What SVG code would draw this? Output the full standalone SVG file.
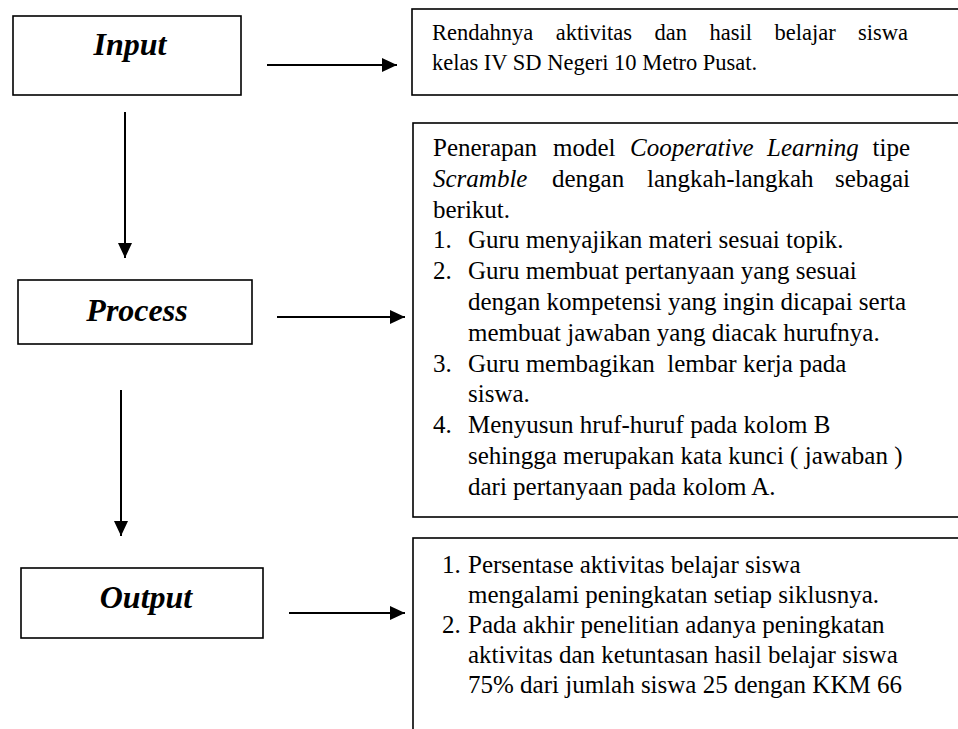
<svg xmlns="http://www.w3.org/2000/svg" width="958" height="729" viewBox="0 0 958 729">
<style>
.box{fill:#fff;stroke:#000;stroke-width:1.6}
.lbl{font-family:"Liberation Serif","Times New Roman",serif;font-weight:bold;font-style:italic;font-size:32px;text-anchor:middle;fill:#000}
.t{font-family:"Liberation Serif","Times New Roman",serif;font-size:25px;fill:#000}
.ti{font-family:"Liberation Serif","Times New Roman",serif;font-size:22.5px;fill:#000}
.it{font-style:italic}
.end{text-anchor:end}
.con line{stroke:#000;stroke-width:2}
</style>
<defs>
<marker id="ah" markerUnits="userSpaceOnUse" markerWidth="15" markerHeight="14" refX="15" refY="7" orient="auto">
<path d="M0,0 L15,7 L0,14 z" fill="#000"/>
</marker>
</defs>
<rect width="958" height="729" fill="#fff"/>

<g id="input">
<rect class="box" x="13" y="16" width="228" height="79"/>
<text class="lbl" x="130" y="55">Input</text>
</g>

<g id="process">
<rect class="box" x="18" y="280" width="234" height="64"/>
<text class="lbl" x="137" y="321">Process</text>
</g>

<g id="output">
<rect class="box" x="21" y="568" width="242" height="70"/>
<text class="lbl" x="146" y="608">Output</text>
</g>

<g id="input-desc">
<rect class="box" x="412" y="9" width="560" height="86"/>
<text class="ti" y="40"><tspan x="432">Rendahnya</tspan><tspan x="555.7">aktivitas</tspan><tspan x="654.5">dan</tspan><tspan x="709.5">hasil</tspan><tspan x="774.5">belajar</tspan></text>
<text class="ti end" x="908" y="40">siswa</text>
<text class="ti" x="432" y="69.5">kelas IV SD Negeri 10 Metro Pusat.</text>
</g>

<g id="process-desc">
<rect class="box" x="413" y="123" width="560" height="394"/>
<text class="t" y="156"><tspan x="433">Penerapan</tspan><tspan x="553">model</tspan><tspan x="630" class="it">Cooperative</tspan><tspan x="767" class="it">Learning</tspan></text>
<text class="t end" x="910" y="156">tipe</text>
<text class="t" y="186.8"><tspan x="433" class="it">Scramble</tspan><tspan x="552">dengan</tspan><tspan x="647">langkah-langkah</tspan></text>
<text class="t end" x="910" y="186.8">sebagai</text>
<text class="t" x="433" y="217.6">berikut.</text>
<text class="t" x="433" y="248.4">1.</text>
<text class="t" x="468" y="248.4">Guru menyajikan materi sesuai topik.</text>
<text class="t" x="433" y="279.2">2.</text>
<text class="t" x="468" y="279.2">Guru membuat pertanyaan yang sesuai</text>
<text class="t" x="468" y="310">dengan kompetensi yang ingin dicapai serta</text>
<text class="t" x="468" y="340.8">membuat jawaban yang diacak hurufnya.</text>
<text class="t" x="433" y="371.6">3.</text>
<text class="t" x="468" y="371.6" xml:space="preserve">Guru membagikan  lembar kerja pada</text>
<text class="t" x="468" y="402.4">siswa.</text>
<text class="t" x="433" y="433.2">4.</text>
<text class="t" x="468" y="433.2">Menyusun hruf-huruf pada kolom B</text>
<text class="t" x="468" y="464">sehingga merupakan kata kunci ( jawaban )</text>
<text class="t" x="468" y="494.8">dari pertanyaan pada kolom A.</text>
</g>

<g id="output-desc">
<rect class="box" x="413" y="538" width="560" height="210"/>
<text class="t" x="442" y="573">1.</text>
<text class="t" x="468" y="573">Persentase aktivitas belajar siswa</text>
<text class="t" x="468" y="603">mengalami peningkatan setiap siklusnya.</text>
<text class="t" x="442" y="633">2.</text>
<text class="t" x="468" y="633">Pada akhir penelitian adanya peningkatan</text>
<text class="t" x="468" y="663">aktivitas dan ketuntasan hasil belajar siswa</text>
<text class="t" x="468" y="693">75% dari jumlah siswa 25 dengan KKM 66</text>
</g>

<g id="connectors" class="con">
<line x1="267" y1="65" x2="397" y2="65" marker-end="url(#ah)"/>
<line x1="125" y1="112" x2="125" y2="258" marker-end="url(#ah)"/>
<line x1="277" y1="317" x2="405" y2="317" marker-end="url(#ah)"/>
<line x1="121" y1="390" x2="121" y2="536" marker-end="url(#ah)"/>
<line x1="289" y1="613" x2="405" y2="613" marker-end="url(#ah)"/>
</g>
</svg>
